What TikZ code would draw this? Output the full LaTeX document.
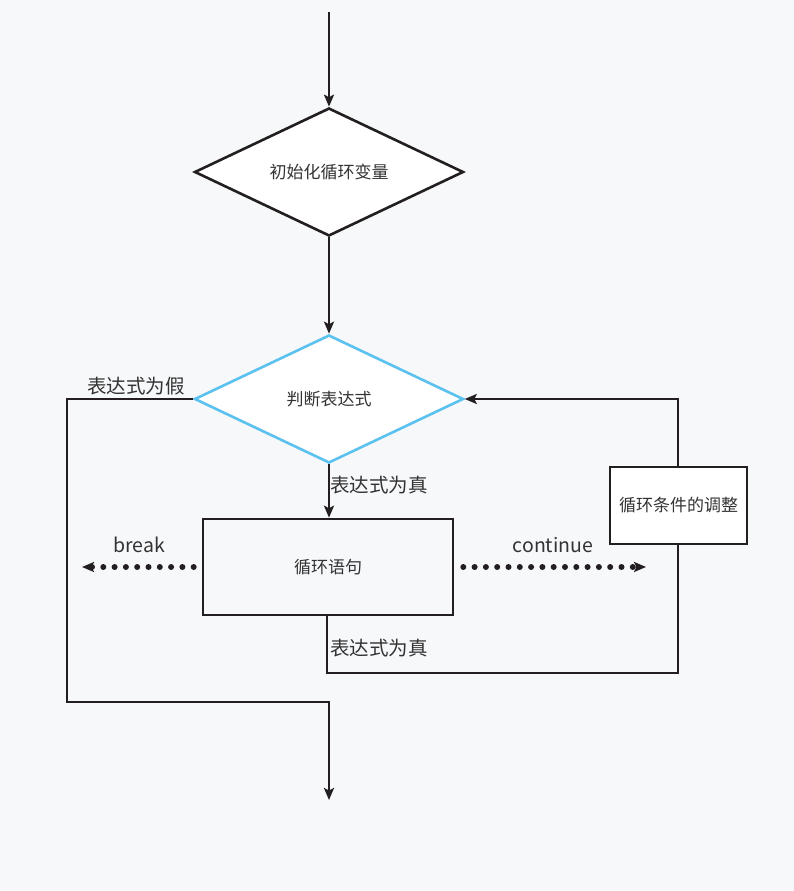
\documentclass[tikz,border=0pt]{standalone}
\usepackage{fontspec}
\setmainfont{Noto Sans CJK SC}
\usetikzlibrary{shapes.geometric,arrows.meta}
\definecolor{bgcol}{HTML}{F7F8FA}
\definecolor{linecol}{HTML}{231F20}
\definecolor{bluecol}{HTML}{5BC1EE}
\definecolor{textcol}{HTML}{333333}
\tikzset{
  flow/.style={line width=2.6pt, draw=linecol},
  arr/.style={flow, -{Stealth[length=12pt,width=10pt,inset=2.5pt]}},
  dots/.style={draw=linecol, line width=6pt, line cap=round, dash pattern=on 0pt off 11.3pt},
  decision/.style={diamond, draw=linecol, fill=white, line width=2.6pt, minimum width=269pt, minimum height=128pt, inner sep=0pt, aspect=2.1, text=textcol, font=\fontsize{17}{20}\selectfont},
  judge/.style={decision, draw=bluecol},
  block/.style={rectangle, draw=linecol, line width=2.6pt, inner sep=0pt, text=textcol, font=\fontsize{17}{20}\selectfont},
  lbl/.style={text=textcol, inner sep=0pt, font=\fontsize{19.5}{22}\selectfont}
}
\begin{document}
\begin{tikzpicture}[x=1pt,y=-1pt]
		%%%%% START %%%%%
		\fill[bgcol] (0,0) rectangle (794,891);
		\useasboundingbox (0,0) rectangle (794,891);
		
		\coordinate (start) at (329,12);
		\node[decision] (init) at (329,172) {初始化循环变量};
		\node[judge] (cond) at (329,399) {判断表达式};
		\node[block, fill=bgcol, minimum width=250pt, minimum height=96pt] (body) at (328,567) {循环语句};
		\node[block, fill=white, minimum width=137pt, minimum height=77pt] (adjust) at (678.5,505.5) {循环条件的调整};
		
		\draw[arr] (start) -- (init.north);
		\draw[arr] (init.south) -- (cond.north);
		\draw[arr] (cond.south) -- (body.north -| cond.south);
		\node[lbl, anchor=west] (truea) at (330,485) {表达式为真};
		
		% false branch
		\coordinate (falsea) at (67,399);
		\coordinate (falseb) at (67,702);
		\coordinate (exita) at (329,702);
		\coordinate (exitb) at (329,800);
		\draw[arr] (cond.west) -- (falsea) -- (falseb) -- (exita) -- (exitb);
		\node[lbl] (false) at (136,386) {表达式为假};
		
		% loop back
		\coordinate (backa) at (327,673);
		\coordinate (backb) at (678,673);
		\coordinate (backc) at (678,399);
		\draw[flow] (body.south -| backa) -- (backa) -- (backb) -- (adjust.south -| backb);
		\draw[arr] (adjust.north -| backc) -- (backc) -- (cond.east);
		\node[lbl, anchor=west] (trueb) at (330,648) {表达式为真};
		
		% break / continue
		\coordinate (brk) at (82,567);
		\coordinate (cnt) at (646,567);
		\draw[dots] ([xshift=-8pt]body.west) -- ([xshift=8pt]brk);
		\draw[arr, line width=3pt] ([xshift=10pt]brk) -- (brk);
		\node[lbl] (breaklbl) at (139,545) {break};
		\draw[dots] ([xshift=9pt]body.east) -- ([xshift=-8pt]cnt);
		\draw[arr, line width=3pt] ([xshift=-10pt]cnt) -- (cnt);
		\node[lbl] (contlbl) at (553,545) {continue};
		%%%%% END %%%%%
\end{tikzpicture}
\end{document}
